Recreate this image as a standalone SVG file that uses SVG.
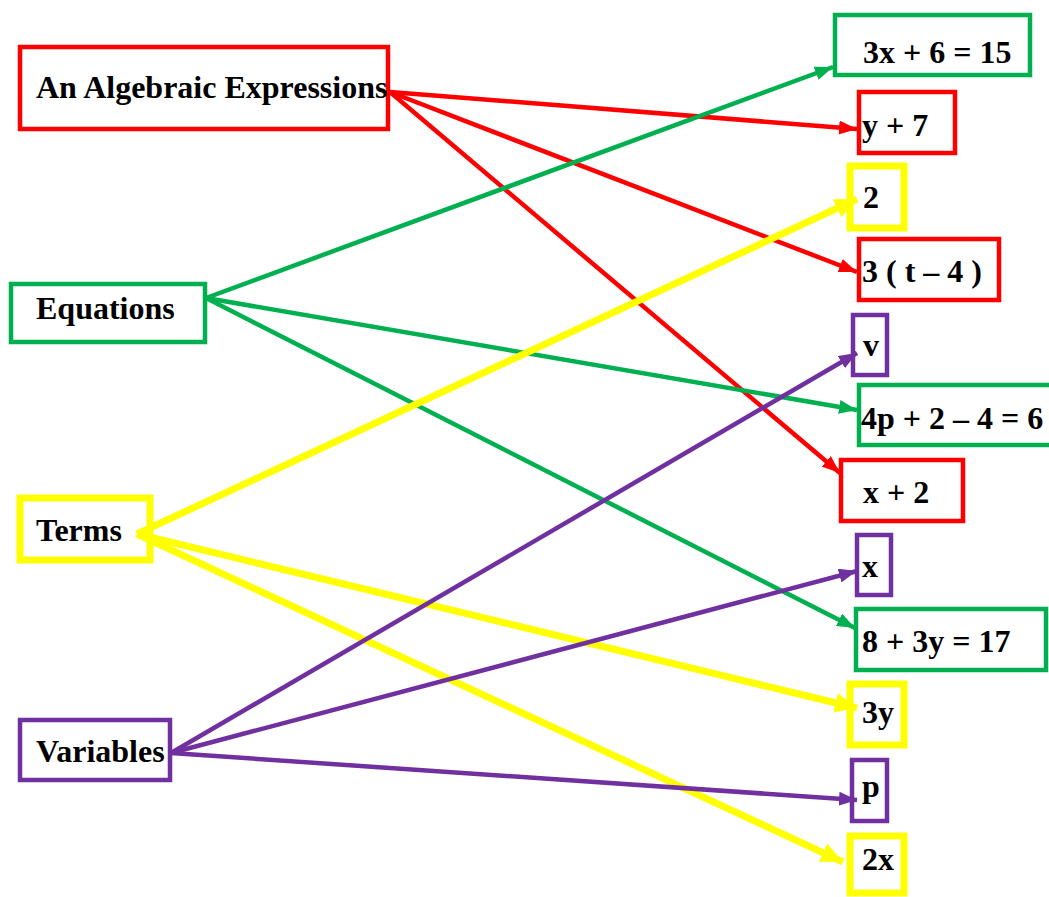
<svg xmlns="http://www.w3.org/2000/svg" width="1049" height="897" viewBox="0 0 1049 897">
<style>
.t{font-family:"Liberation Serif","Times New Roman",serif;font-weight:bold;font-size:32px;fill:#000}
.box{fill:#fff}
.r{stroke:#FF0000;stroke-width:4.5}
.g{stroke:#00B050;stroke-width:4.5}
.y{stroke:#FFFF00;stroke-width:7}
.p{stroke:#7030A0;stroke-width:4.5}
.c{fill:none}
</style>
<defs>
<marker id="ar" markerUnits="userSpaceOnUse" viewBox="0 0 18 14" refX="18" refY="7" markerWidth="18" markerHeight="14" orient="auto"><path d="M0,0 L18,7 L0,14 z" fill="#FF0000"/></marker>
<marker id="ag" markerUnits="userSpaceOnUse" viewBox="0 0 18 14" refX="18" refY="7" markerWidth="18" markerHeight="14" orient="auto"><path d="M0,0 L18,7 L0,14 z" fill="#00B050"/></marker>
<marker id="ay" markerUnits="userSpaceOnUse" viewBox="0 0 22 20" refX="22" refY="10" markerWidth="22" markerHeight="20" orient="auto"><path d="M0,0 L22,10 L0,20 z" fill="#FFFF00"/></marker>
<marker id="ap" markerUnits="userSpaceOnUse" viewBox="0 0 18 14" refX="18" refY="7" markerWidth="18" markerHeight="14" orient="auto"><path d="M0,0 L18,7 L0,14 z" fill="#7030A0"/></marker>
</defs>
<rect width="1049" height="897" fill="#fff"/>

<g id="n-expr"><rect class="box r" x="20" y="47" width="368" height="82"/><text class="t" x="36" y="98">An Algebraic Expressions</text></g>
<g id="n-eq"><rect class="box g" x="11" y="284" width="194" height="58"/><text class="t" x="36" y="319">Equations</text></g>
<g id="n-terms"><rect class="box y" x="20" y="498" width="130" height="62"/><text class="t" x="36" y="541">Terms</text></g>
<g id="n-var"><rect class="box p" x="20" y="720" width="150" height="60"/><text class="t" x="36" y="762">Variables</text></g>

<g id="n-r1"><rect class="box g" x="835" y="15" width="195" height="60"/><text class="t" x="863" y="63">3x + 6 = 15</text></g>
<g id="n-r2"><rect class="box r" x="859" y="92" width="96" height="61"/><text class="t" x="862" y="136">y + 7</text></g>
<g id="n-r3"><rect class="box y" x="850" y="166" width="54" height="62"/><text class="t" x="863" y="208">2</text></g>
<g id="n-r4"><rect class="box r" x="859" y="239" width="140" height="61"/><text class="t" x="862" y="282">3 ( t – 4 )</text></g>
<g id="n-r5"><rect class="box p" x="853" y="315" width="34" height="60"/><text class="t" x="863" y="356">v</text></g>
<g id="n-r6"><rect class="box g" x="859" y="385" width="200" height="60"/><text class="t" x="861" y="429">4p + 2 – 4 = 6</text></g>
<g id="n-r7"><rect class="box r" x="841" y="460" width="122" height="61"/><text class="t" x="863" y="503">x + 2</text></g>
<g id="n-r8"><rect class="box p" x="857" y="535" width="34" height="60"/><text class="t" x="862" y="577">x</text></g>
<g id="n-r9"><rect class="box g" x="856" y="609" width="190" height="61"/><text class="t" x="862" y="652">8 + 3y = 17</text></g>
<g id="n-r10"><rect class="box y" x="850" y="684" width="54" height="61"/><text class="t" x="862" y="723">3y</text></g>
<g id="n-r11"><rect class="box p" x="852" y="760" width="35" height="61"/><text class="t" x="862" y="797">p</text></g>
<g id="n-r12"><rect class="box y" x="850" y="836" width="54" height="57"/><text class="t" x="862" y="870">2x</text></g>

<g id="connectors" class="c">
<line class="r" x1="390" y1="92" x2="857" y2="129" marker-end="url(#ar)"/>
<line class="r" x1="390" y1="92" x2="857" y2="272" marker-end="url(#ar)"/>
<line class="r" x1="390" y1="92" x2="840" y2="473" marker-end="url(#ar)"/>
<line class="g" x1="206" y1="298" x2="833" y2="67" marker-end="url(#ag)"/>
<line class="g" x1="206" y1="298" x2="857" y2="410" marker-end="url(#ag)"/>
<line class="g" x1="206" y1="298" x2="855" y2="628" marker-end="url(#ag)"/>
<line class="y" x1="137" y1="534" x2="857" y2="199" marker-end="url(#ay)"/>
<line class="y" x1="137" y1="534" x2="857" y2="708" marker-end="url(#ay)"/>
<line class="y" x1="137" y1="534" x2="843" y2="862" marker-end="url(#ay)"/>
<line class="p" x1="171" y1="753" x2="857" y2="353" marker-end="url(#ap)"/>
<line class="p" x1="171" y1="753" x2="857" y2="571" marker-end="url(#ap)"/>
<line class="p" x1="171" y1="753" x2="857" y2="800" marker-end="url(#ap)"/>
</g>
</svg>
